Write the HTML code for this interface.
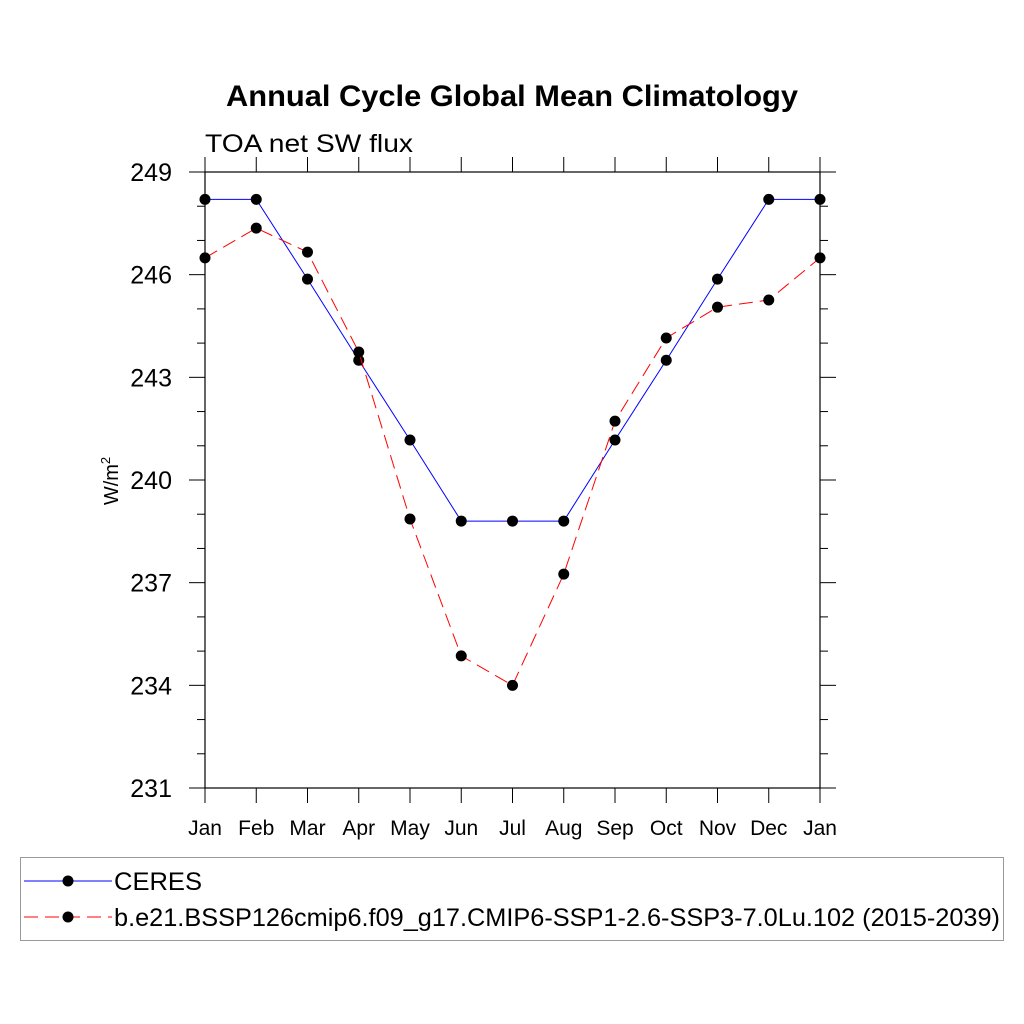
<!DOCTYPE html>
<html><head><meta charset="utf-8"><style>
body{margin:0;background:#fff;}
svg{display:block;font-family:"Liberation Sans",sans-serif;}
</style></head><body>
<svg id="chart" width="1024" height="1024">
<text x="226" y="106" textLength="572" lengthAdjust="spacingAndGlyphs" font-size="30" font-weight="bold">Annual Cycle Global Mean Climatology</text>
<text x="205" y="152" textLength="208" lengthAdjust="spacingAndGlyphs" font-size="25">TOA net SW flux</text>
<text transform="translate(118,481) rotate(-90)" text-anchor="middle" font-size="20">W/m<tspan font-size="13" dy="-8">2</tspan></text>
<g id="axes"></g>
<g id="series"></g>
<rect x="20.5" y="857.5" width="983" height="83" fill="none" stroke="#999" stroke-width="1"/>
<g>
<line x1="24" y1="881" x2="112" y2="881" stroke="#0000ff" stroke-width="1"/>
<circle cx="68" cy="881" r="5.5" fill="#000"/>
<text x="114" y="890" textLength="88" lengthAdjust="spacingAndGlyphs" font-size="25">CERES</text>
</g>
<g>
<line x1="24" y1="917" x2="112" y2="917" stroke="#ff0000" stroke-width="1" stroke-dasharray="14,7"/>
<circle cx="68" cy="917" r="5.5" fill="#000"/>
<text x="114" y="926" textLength="886" lengthAdjust="spacingAndGlyphs" font-size="25">b.e21.BSSP126cmip6.f09_g17.CMIP6-SSP1-2.6-SSP3-7.0Lu.102 (2015-2039)</text>
</g>
</svg>
<script>
const months=["Jan","Feb","Mar","Apr","May","Jun","Jul","Aug","Sep","Oct","Nov","Dec","Jan"];
const yTicks=[231,234,237,240,243,246,249];
const ceres=[248.2,248.2,245.87,243.5,241.17,238.8,238.8,238.8,241.17,243.5,245.87,248.2,248.2];
const model=[246.49,247.36,246.66,243.74,238.86,234.86,234.0,237.25,241.72,244.15,245.05,245.26,246.49];

const X0=205,X1=820,Y0=788,Y1=172,YMIN=231,YMAX=249;
const xs=i=>X0+(X1-X0)*i/(months.length-1);
const ys=v=>Y0-(Y0-Y1)*(v-YMIN)/(YMAX-YMIN);
const NS="http://www.w3.org/2000/svg";
function mk(tag,attrs,parent){const e=document.createElementNS(NS,tag);for(const k in attrs)e.setAttribute(k,attrs[k]);parent.appendChild(e);return e;}
const ax=document.getElementById('axes');
const frame=mk('rect',{x:X0,y:Y1,width:X1-X0,height:Y0-Y1,fill:'none',stroke:'#000','stroke-width':1.2},ax);


months.forEach((m,i)=>{
  const x=xs(i);
  mk('line',{x1:x,y1:Y1,x2:x,y2:Y1-15,stroke:'#000'},ax);
  mk('line',{x1:x,y1:Y0,x2:x,y2:Y0+15,stroke:'#000'},ax);
  const t=mk('text',{x:x,y:Y0+47,'text-anchor':'middle','font-size':21},ax);
  t.textContent=m;
  
  
});
for(let v=YMIN;v<=YMAX;v++){
  const y=ys(v);const major=(v-YMIN)%3===0;const L=major?16:8;
  mk('line',{x1:X0,y1:y,x2:X0-L,y2:y,stroke:'#000'},ax);
  mk('line',{x1:X1,y1:y,x2:X1+L,y2:y,stroke:'#000'},ax);
}
yTicks.forEach(v=>{
  const t=mk('text',{x:172,y:ys(v)+9,'text-anchor':'end','font-size':25},ax);
  t.textContent=v;
  
  
});
const sg=document.getElementById('series');
function series(vals,color,dash,name){
  const pl=mk('polyline',{points:vals.map((v,i)=>xs(i)+','+ys(v)).join(' '),fill:'none',stroke:color,'stroke-width':1,'stroke-dasharray':dash},sg);
  
  
  vals.forEach((v,i)=>{
    const c=mk('circle',{cx:xs(i),cy:ys(v),r:5.5,fill:'#000'},sg);
    
    
  });
}
series(ceres,'#0000ff','none','ceres');
series(model,'#ff0000','14,7','model');
</script>
</body></html>
